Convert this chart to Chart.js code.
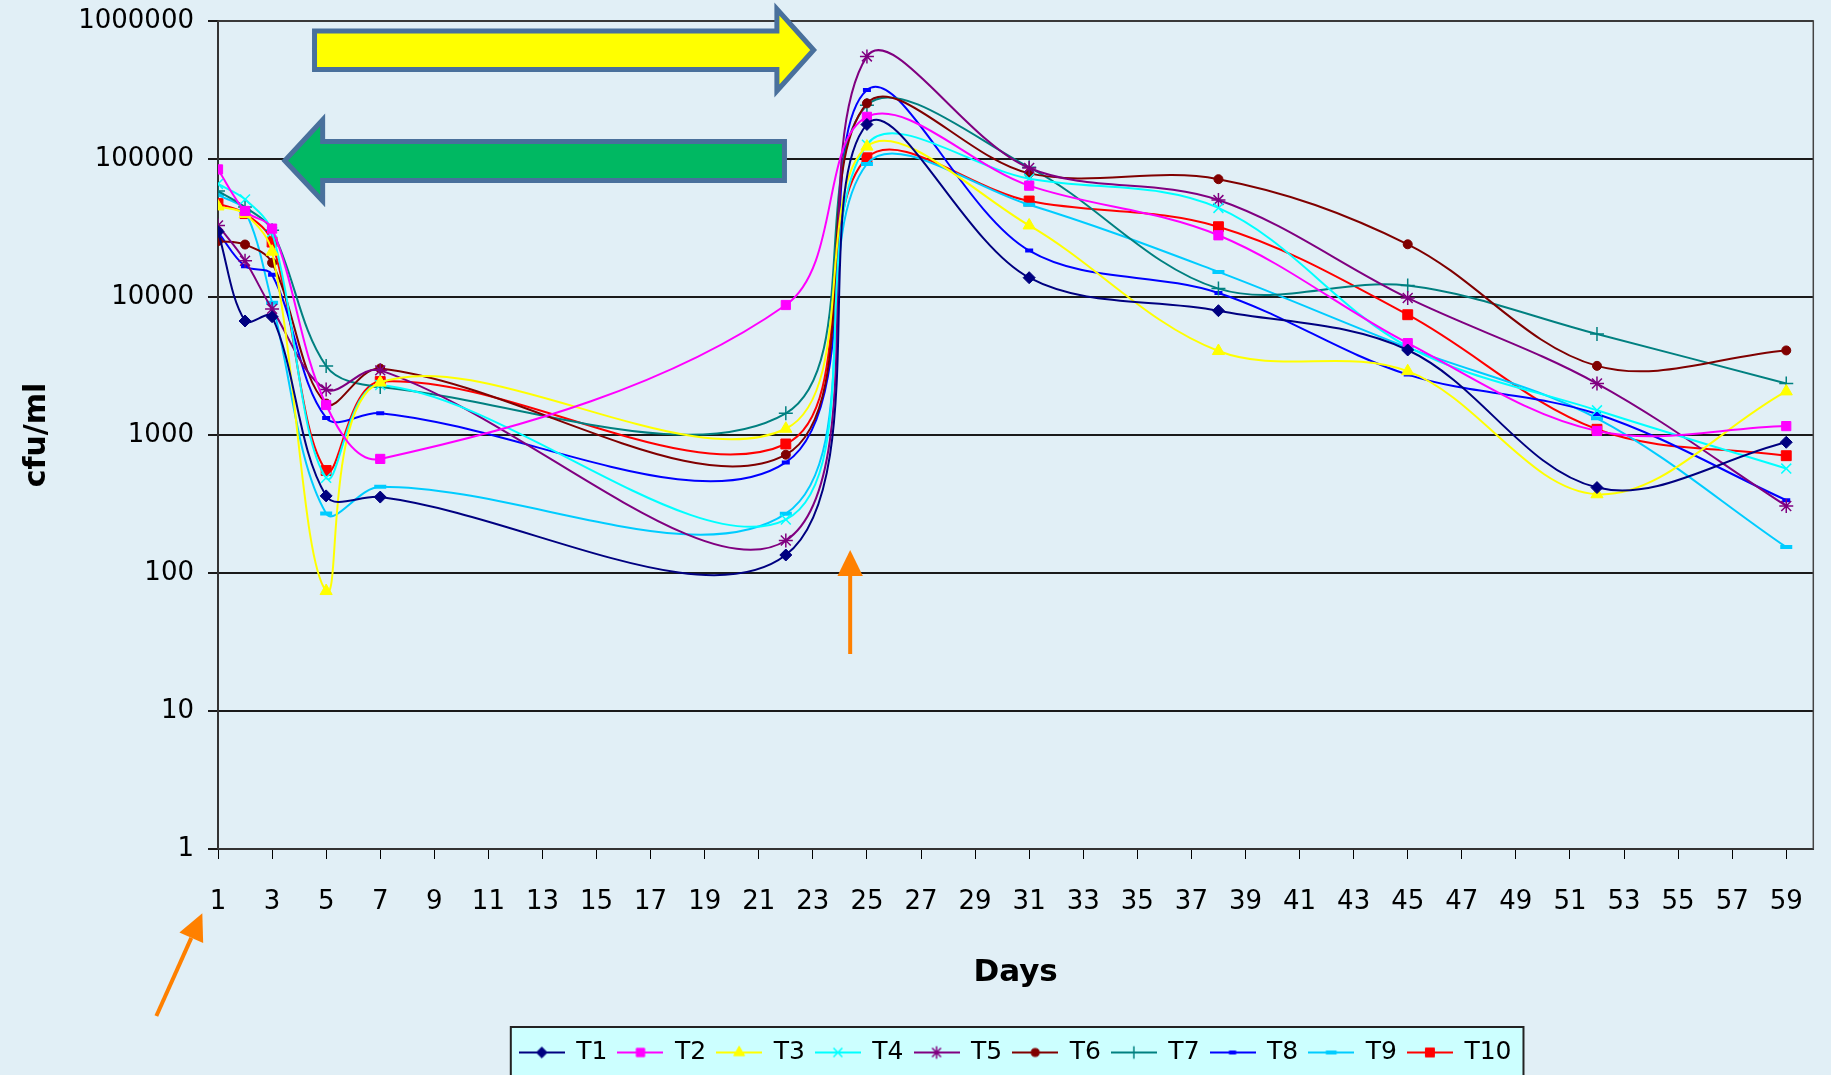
<!DOCTYPE html>
<html>
<head>
<meta charset="utf-8">
<title>cfu/ml per day</title>
<script src="https://cdn.jsdelivr.net/npm/chart.js"></script>
<style>
    html, body { margin: 0; padding: 0; background: #E1EFF6; overflow: hidden; }
    #wrap { width: 1831px; height: 1075px; }
    canvas { display: block; }
</style>
</head>
<body>
<div id="wrap"><canvas id="cfuChart" width="1831" height="1075"></canvas></div>
<script>
// sampling days (x) and counts per tank (cfu/ml)
const days = [1, 2, 3, 5, 7, 22, 25, 31, 38, 45, 52, 59];

const t1 = [29800, 6700, 7200, 362, 355, 135, 178000, 13800, 7960, 4130, 416, 886];
const t2 = [84000, 42000, 31300, 1650, 671, 8750, 202000, 64100, 28000, 4630, 1070, 1160];
const t3 = [45300, 40000, 21300, 74, 2400, 1110, 123000, 33000, 4060, 2900, 372, 2070];
const t4 = [66000, 51000, 29500, 490, 2300, 244, 127000, 72000, 44200, 4370, 1510, 571];
const t5 = [33000, 18300, 8200, 2140, 2940, 172, 554000, 86000, 50400, 9840, 2360, 306];
const t6 = [25400, 24000, 17700, 1690, 3030, 720, 253000, 78700, 71400, 24100, 3170, 4100];
const t7 = [58600, 44900, 30400, 3160, 2230, 1437, 245000, 87000, 11500, 12100, 5400, 2360];
const t8 = [29500, 16700, 14500, 1330, 1440, 633, 316000, 21700, 10700, 2740, 1420, 337];
const t9 = [55000, 42000, 9100, 270, 422, 269, 92000, 46600, 15200, 4300, 1320, 154];
const t10 = [47500, 40200, 25000, 553, 2440, 861, 102000, 49600, 32300, 7440, 1100, 708];

const seriesNames = ['T1', 'T2', 'T3', 'T4', 'T5', 'T6', 'T7', 'T8', 'T9', 'T10'];
const seriesValues = [t1, t2, t3, t4, t5, t6, t7, t8, t9, t10];

const xTickDays = [1, 3, 5, 7, 9, 11, 13, 15, 17, 19, 21, 23, 25, 27, 29, 31, 33, 35, 37, 39, 41, 43, 45, 47, 49, 51, 53, 55, 57, 59];
const yTickValues = [1, 10, 100, 1000, 10000, 100000, 1000000];

// look of each series
const seriesColors = ['#000080', '#FF00FF', '#FFFF00', '#00FFFF', '#800080', '#800000', '#008080', '#0000FF', '#00CCFF', '#FF0000'];
const markerStyles = ['rectRot', 'rect', 'triangle', 'crossRot', 'star', 'circle', 'cross', 'line', 'line', 'rect'];
const markerRadius = [6, 6.5, 7, 7, 7, 4.5, 7, 4, 6, 7];
const markerBorder = [1, 1, 1, 1.5, 1.5, 1, 1.5, 4, 4, 1];

const bgColor = '#E1EFF6';

// small line+marker icons for the legend
function makeLegendIcon(i) {
    const c = document.createElement('canvas');
    c.width = 46;
    c.height = 20;
    const g = c.getContext('2d');
    g.strokeStyle = seriesColors[i];
    g.fillStyle = seriesColors[i];
    g.lineWidth = 2;
    g.beginPath();
    g.moveTo(0, 10);
    g.lineTo(46, 10);
    g.stroke();
    g.lineWidth = markerBorder[i];
    Chart.helpers.drawPoint(g, {
        pointStyle: markerStyles[i],
        radius: markerRadius[i] * 0.9,
        borderWidth: markerBorder[i],
        rotation: 0
    }, 23, 10);
    return c;
}

const legendIcons = seriesNames.map((n, i) => makeLegendIcon(i));

const datasets = seriesNames.map(function (name, i) {
    return {
        label: name,
        data: days.map((d, k) => ({ x: d, y: seriesValues[i][k] })),
        borderColor: seriesColors[i],
        backgroundColor: seriesColors[i],
        borderWidth: 2,
        tension: 0.35,
        fill: false,
        pointStyle: markerStyles[i],
        pointRadius: markerRadius[i],
        pointHoverRadius: markerRadius[i],
        pointBorderWidth: markerBorder[i],
        pointBackgroundColor: seriesColors[i],
        pointBorderColor: seriesColors[i]
    };
});

// shapes drawn over the plot, given in (day, log10 cfu)
const yellowArrow = [[4.57, 5.928], [21.67, 5.928], [21.67, 6.087], [23.03, 5.79], [21.67, 5.493], [21.67, 5.649], [4.57, 5.649]];
const greenArrow = [[21.95, 5.127], [4.87, 5.127], [4.87, 5.283], [3.47, 4.988], [4.87, 4.696], [4.87, 4.844], [21.95, 4.844]];

function px(chart, p) {
    return [chart.scales.x.getPixelForValue(p[0]), chart.scales.y.getPixelForValue(Math.pow(10, p[1]))];
}

function drawBlockArrow(ctx, chart, pts, fill) {
    ctx.beginPath();
    pts.forEach(function (p, k) {
        const q = px(chart, p);
        if (k === 0) ctx.moveTo(q[0], q[1]); else ctx.lineTo(q[0], q[1]);
    });
    ctx.closePath();
    ctx.fillStyle = fill;
    ctx.fill();
    ctx.lineWidth = 5;
    ctx.lineJoin = 'miter';
    ctx.strokeStyle = '#49709C';
    ctx.stroke();
}

function drawOrangeArrow(ctx, chart, from, to, headLen, headHalf) {
    const a = px(chart, from);
    const b = px(chart, to);
    const ang = Math.atan2(b[1] - a[1], b[0] - a[0]);
    const bx = b[0] - Math.cos(ang) * headLen;
    const by = b[1] - Math.sin(ang) * headLen;
    ctx.strokeStyle = '#FF8000';
    ctx.fillStyle = '#FF8000';
    ctx.lineWidth = 4;
    ctx.beginPath();
    ctx.moveTo(a[0], a[1]);
    ctx.lineTo(bx, by);
    ctx.stroke();
    ctx.beginPath();
    ctx.moveTo(b[0], b[1]);
    ctx.lineTo(bx + Math.sin(ang) * headHalf, by - Math.cos(ang) * headHalf);
    ctx.lineTo(bx - Math.sin(ang) * headHalf, by + Math.cos(ang) * headHalf);
    ctx.closePath();
    ctx.fill();
}

const decorations = {
    id: 'decorations',
    beforeDraw(chart) {
        const ctx = chart.ctx;
        ctx.save();
        ctx.fillStyle = bgColor;
        ctx.fillRect(0, 0, chart.width, chart.height);
        // legend box
        const boxes = chart.legend.legendHitBoxes;
        if (boxes && boxes.length) {
            const left = Math.min(...boxes.map(b => b.left)) - 9;
            const right = Math.max(...boxes.map(b => b.left + b.width)) + 12;
            const top = chart.legend.top - 2;
            ctx.fillStyle = '#CCFFFF';
            ctx.fillRect(left, top, right - left, chart.height - top + 10);
            ctx.lineWidth = 2;
            ctx.strokeStyle = '#222222';
            ctx.strokeRect(left, top, right - left, chart.height - top + 10);
        }
        ctx.restore();
    },
    beforeDatasetsDraw(chart) {
        const a = chart.chartArea;
        const ctx = chart.ctx;
        ctx.save();
        ctx.strokeStyle = '#444444';
        ctx.lineWidth = 1.5;
        ctx.strokeRect(a.left, a.top, a.right - a.left, a.bottom - a.top);
        ctx.restore();
    },
    afterDraw(chart) {
        const ctx = chart.ctx;
        ctx.save();
        drawBlockArrow(ctx, chart, yellowArrow, '#FFFF00');
        drawBlockArrow(ctx, chart, greenArrow, '#00B862');
        drawOrangeArrow(ctx, chart, [24.38, 1.413], [24.38, 2.167], 26, 12.7);
        drawOrangeArrow(ctx, chart, [-1.28, -1.21], [0.42, -0.465], 27, 13);
        ctx.restore();
    }
};

Chart.defaults.font.family = '"DejaVu Sans", Verdana, sans-serif';
Chart.defaults.color = '#000000';

const ctx = document.getElementById('cfuChart').getContext('2d');
const cfuChart = new Chart(ctx, {
    type: 'line',
    data: { datasets: datasets },
    options: {
        responsive: false,
        animation: false,
        events: [],
        layout: { padding: { top: 21, right: 12, bottom: 0, left: 0 } },
        plugins: {
            tooltip: { enabled: false },
            legend: {
                position: 'bottom',
                fullSize: false,
                labels: {
                    font: { size: 25 },
                    color: '#000000',
                    usePointStyle: true,
                    pointStyleWidth: 44,
                    padding: 11,
                    generateLabels: function (chart) {
                        const items = Chart.defaults.plugins.legend.labels.generateLabels(chart);
                        items.forEach((it, i) => { it.pointStyle = legendIcons[i]; });
                        return items;
                    }
                }
            }
        },
        scales: {
            x: {
                type: 'linear',
                min: 1,
                max: 60,
                afterBuildTicks: function (scale) {
                    scale.ticks = xTickDays.map(v => ({ value: v }));
                },
                afterFit: function (scale) { scale.height = 180; },
                ticks: {
                    autoSkip: false,
                    maxRotation: 0,
                    padding: 28,
                    font: { size: 26 },
                    callback: v => String(v)
                },
                grid: { drawOnChartArea: false, drawTicks: true, tickLength: 10, color: '#000000', lineWidth: 1 },
                border: { display: true, color: '#000000', width: 2 },
                title: { display: true, text: 'Days', font: { size: 31, weight: 'bold' }, padding: { top: 0, bottom: 37 } }
            },
            y: {
                type: 'logarithmic',
                min: 1,
                max: 1000000,
                afterBuildTicks: function (scale) {
                    scale.ticks = yTickValues.map(v => ({ value: v }));
                },
                afterFit: function (scale) {
                    scale.width = 218;
                    scale.paddingTop = 0;
                    scale.paddingBottom = 0;
                },
                ticks: {
                    padding: 14,
                    font: { size: 26 },
                    callback: v => String(v)
                },
                grid: { color: '#1a1a1a', lineWidth: 2, drawTicks: true, tickLength: 10 },
                border: { display: true, color: '#000000', width: 2 },
                title: { display: true, text: 'cfu/ml', font: { size: 30, weight: 'bold' }, padding: { top: 19, bottom: 0 } }
            }
        }
    },
    plugins: [decorations]
});
</script>
</body>
</html>
